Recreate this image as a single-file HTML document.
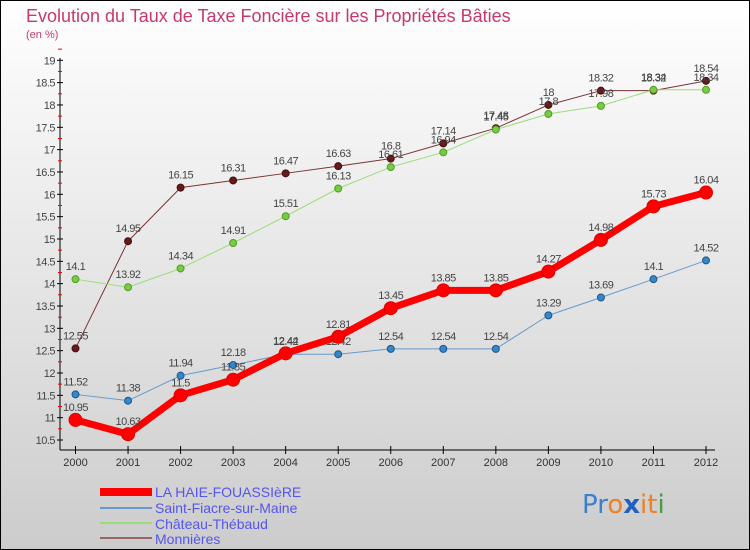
<!DOCTYPE html>
<html><head><meta charset="utf-8"><style>
body{margin:0}
#c{width:750px;height:550px;position:relative;font-family:"Liberation Sans",sans-serif;background:linear-gradient(#fff,#ccc);box-sizing:border-box;border:1px solid #000;overflow:hidden}
</style></head><body>
<div id="c">
<svg width="750" height="550" style="position:absolute;left:-1px;top:-1px" id="svg">
<text x="26" y="22" font-size="18" fill="#c8386e">Evolution du Taux de Taxe Foncière sur les Propriétés Bâties</text>
<text x="26" y="38" font-size="11" fill="#c8386e">(en %)</text>
<g id="axes"></g><g id="series"></g>
<g>
<rect x="100" y="488" width="52" height="8" fill="#f00"/>
<text x="155" y="497" font-size="14" fill="#5555ee">LA HAIE-FOUASSIèRE</text>
<rect x="100" y="507" width="52" height="2" fill="#6699cc"/>
<text x="155" y="513" font-size="14" fill="#5555ee">Saint-Fiacre-sur-Maine</text>
<rect x="100" y="522" width="52" height="2" fill="#99dd77"/>
<text x="155" y="529" font-size="14" fill="#5555ee">Château-Thébaud</text>
<rect x="100" y="537" width="52" height="2" fill="#996666"/>
<text x="155" y="544" font-size="14" fill="#5555ee">Monnières</text>
</g>
<text x="582" y="513" font-size="26" font-family="DejaVu Sans, sans-serif"><tspan fill="#3a7fd0">Pr</tspan><tspan fill="#f08020">o</tspan><tspan fill="#2060c0" font-weight="bold">x</tspan><tspan fill="#f08020">it</tspan><tspan fill="#40a040">i</tspan></text>
</svg>
</div>
<script>
const years=[2000,2001,2002,2003,2004,2005,2006,2007,2008,2009,2010,2011,2012];
const yTicks=[10.5,11,11.5,12,12.5,13,13.5,14,14.5,15,15.5,16,16.5,17,17.5,18,18.5,19];
const haie=[10.95,10.63,11.5,11.85,12.44,12.81,13.45,13.85,13.85,14.27,14.98,15.73,16.04];
const fiacre=[11.52,11.38,11.94,12.18,12.42,12.42,12.54,12.54,12.54,13.29,13.69,14.1,14.52];
const chateau=[14.1,13.92,14.34,14.91,15.51,16.13,16.61,16.94,17.45,17.8,17.98,18.34,18.34];
const monnieres=[12.55,14.95,16.15,16.31,16.47,16.63,16.8,17.14,17.48,18,18.32,18.32,18.54];
const NS="http://www.w3.org/2000/svg";
const X=i=>75.5+i*(706-75.5)/(years.length-1);
const Y=v=>440-(v-10.5)*(440-60.3)/8.5;
function mk(t,a,p){const e=document.createElementNS(NS,t);for(const k in a)e.setAttribute(k,a[k]);p.appendChild(e);return e;}
const ax=document.getElementById('axes');
let e=mk('line',{x1:60,y1:58,x2:60,y2:450,stroke:'#000','stroke-width':1},ax);


e=mk('line',{x1:60,y1:450,x2:715,y2:450,stroke:'#000','stroke-width':1},ax);


yTicks.forEach(v=>{
 mk('line',{x1:57,y1:Y(v),x2:63,y2:Y(v),stroke:'#000'},ax);
 mk('line',{x1:58,y1:Y(v+0.25),x2:62,y2:Y(v+0.25),stroke:'#e00'},ax);
 const t=mk('text',{x:55,y:Y(v)+4,'font-size':11,fill:'#444','text-anchor':'end','letter-spacing':'-0.5'},ax);
 t.textContent=v;
 
 
});
years.forEach((y,i)=>{
 mk('line',{x1:X(i),y1:446,x2:X(i),y2:454,stroke:'#000'},ax);
 const t=mk('text',{x:X(i),y:466,'font-size':11,fill:'#333','text-anchor':'middle'},ax);
 t.textContent=y;
 
 
});
const sg=document.getElementById('series');
function series(vals,name,col,w,r,dot,dotStroke){
 const g=mk('g',{},sg);
 
 
 const pl=mk('polyline',{points:vals.map((v,i)=>X(i)+','+Y(v)).join(' '),fill:'none',stroke:col,'stroke-width':w,'stroke-linejoin':'round'},g);
 
 
 vals.forEach((v,i)=>{
  const c=mk('circle',{cx:X(i),cy:Y(v),r:r,fill:dot,stroke:dotStroke,'stroke-width':1},g);
  
  
  const t=mk('text',{x:X(i),y:Y(v)-9,'font-size':11,fill:'#444','text-anchor':'middle','letter-spacing':'-0.5'},g);
  t.textContent=v;
  
  
 });
}
series(monnieres,'monnieres','#7a3333',1,3.5,'#661a1a','#441010');
series(chateau,'chateau','#99dd77',1,3.5,'#77cc44','#559922');
series(fiacre,'fiacre','#6699cc',1,3.5,'#3388cc','#225588');
series(haie,'haie','#f00',7,6.5,'#f00','#d00');
</script>
</body></html>
